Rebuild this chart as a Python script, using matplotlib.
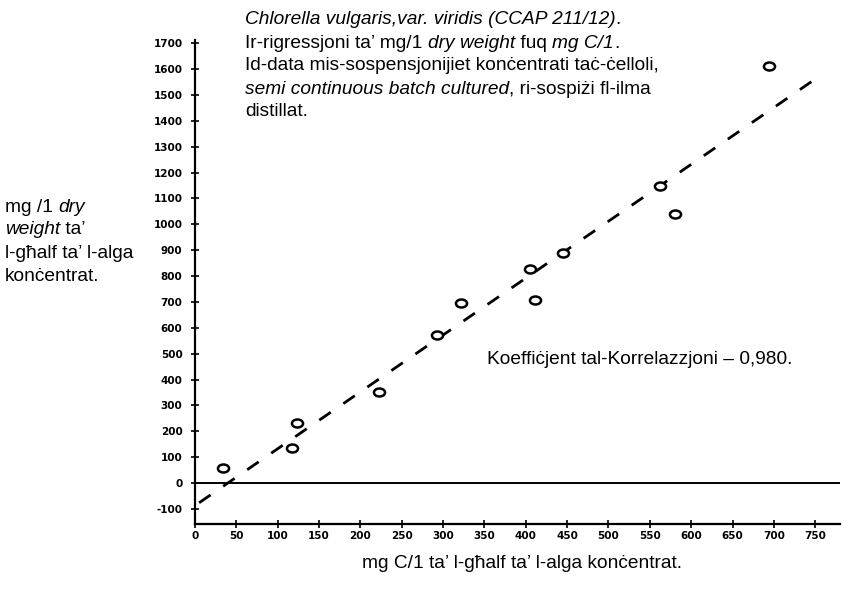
import numpy as np
import matplotlib
matplotlib.use('Agg')
import matplotlib.pyplot as plt
from matplotlib.path import Path

plt.rcParams['font.family'] = ['Liberation Sans', 'DejaVu Sans']
plt.rcParams['axes.unicode_minus'] = False

# 数据
carbon_mg = [34, 117, 123, 223, 293, 322, 405, 411, 445, 562, 581, 694]
dry_weight = [57, 134, 233, 353, 574, 697, 827, 707, 889, 1147, 1039, 1612]
reg_x = [5, 750]
reg_y = [-76, 1561]
x_ticks = list(range(0, 751, 50))
y_ticks = list(range(-100, 1701, 100))

title_lines = [
    [("Chlorella vulgaris,var. viridis (CCAP 211/12)", 'italic'), (".", 'normal')],
    [("Ir-rigressjoni ta’ mg/1 ", 'normal'), ("dry weight", 'italic'), (" fuq ", 'normal'),
     ("mg C/1", 'italic'), (".", 'normal')],
    [("Id-data mis-sospensjonijiet konċentrati taċ-ċelloli,", 'normal')],
    [("semi continuous batch cultured", 'italic'), (", ri-sospiżi fl-ilma", 'normal')],
    [("distillat.", 'normal')],
]
ylabel_lines = [
    [("mg /1 ", 'normal'), ("dry", 'italic')],
    [("weight", 'italic'), (" ta’", 'normal')],
    [("l-għalf ta’ l-alga", 'normal')],
    [("konċentrat.", 'normal')],
]
corr_text = "Koeffiċjent tal-Korrelazzjoni – 0,980."
xlabel_text = "mg C/1 ta’ l-għalf ta’ l-alga konċentrat."

W, H = 866, 591
FS = 13.8
fig = plt.figure(figsize=(W / 100, H / 100), dpi=100)
ax = fig.add_axes([195 / W, 67 / H, 645 / W, 484 / H])

# 椭圆形标记 (原图中的圆圈略扁)
circ = Path.unit_circle()
ellipse = Path(circ.vertices * np.array([1.0, 0.72]), circ.codes)

ax.plot(carbon_mg, dry_weight, linestyle='none', marker=ellipse, markerfacecolor='white',
        markeredgecolor='black', markeredgewidth=1.8, markersize=8, zorder=3)
ax.plot(reg_x, reg_y, color='black', lw=2, dashes=(5, 5.5))
ax.axhline(0, color='black', lw=1.4)

ax.set_xlim(0, 780)
ax.set_ylim(-158, 1712)
ax.set_xticks(x_ticks)
ax.set_yticks(y_ticks)
for lbl in ax.get_xticklabels() + ax.get_yticklabels():
    lbl.set_fontweight('bold')
    lbl.set_fontsize(7.5)
    lbl.set_family('DejaVu Sans')
ax.tick_params(direction='inout', length=6, width=1.2, colors='black')
ax.tick_params(axis='y', pad=6)
ax.tick_params(axis='x', pad=2)
ax.spines['top'].set_visible(False)
ax.spines['right'].set_visible(False)
ax.spines['left'].set_linewidth(1.6)
ax.spines['bottom'].set_linewidth(1.6)

fig.canvas.draw()
renderer = fig.canvas.get_renderer()


def draw_line(segments, x_px, y_px, size=FS):
    # 按段落绘制, 斜体和正常字体混合
    x = x_px
    for txt, style in segments:
        t = fig.text(x / W, 1 - y_px / H, txt, fontsize=size, style=style,
                     va='center', ha='left')
        bb = t.get_window_extent(renderer)
        x += bb.width


for i, line in enumerate(title_lines):
    draw_line(line, 245, 20 + i * 23)

for i, line in enumerate(ylabel_lines):
    draw_line(line, 5, 207 + i * 23)

fig.text(487 / W, 1 - 360 / H, corr_text, fontsize=FS, va='center', ha='left')
fig.text(522 / W, 1 - 563 / H, xlabel_text, fontsize=FS, va='center', ha='center')

fig.savefig('out.png', dpi=100)
